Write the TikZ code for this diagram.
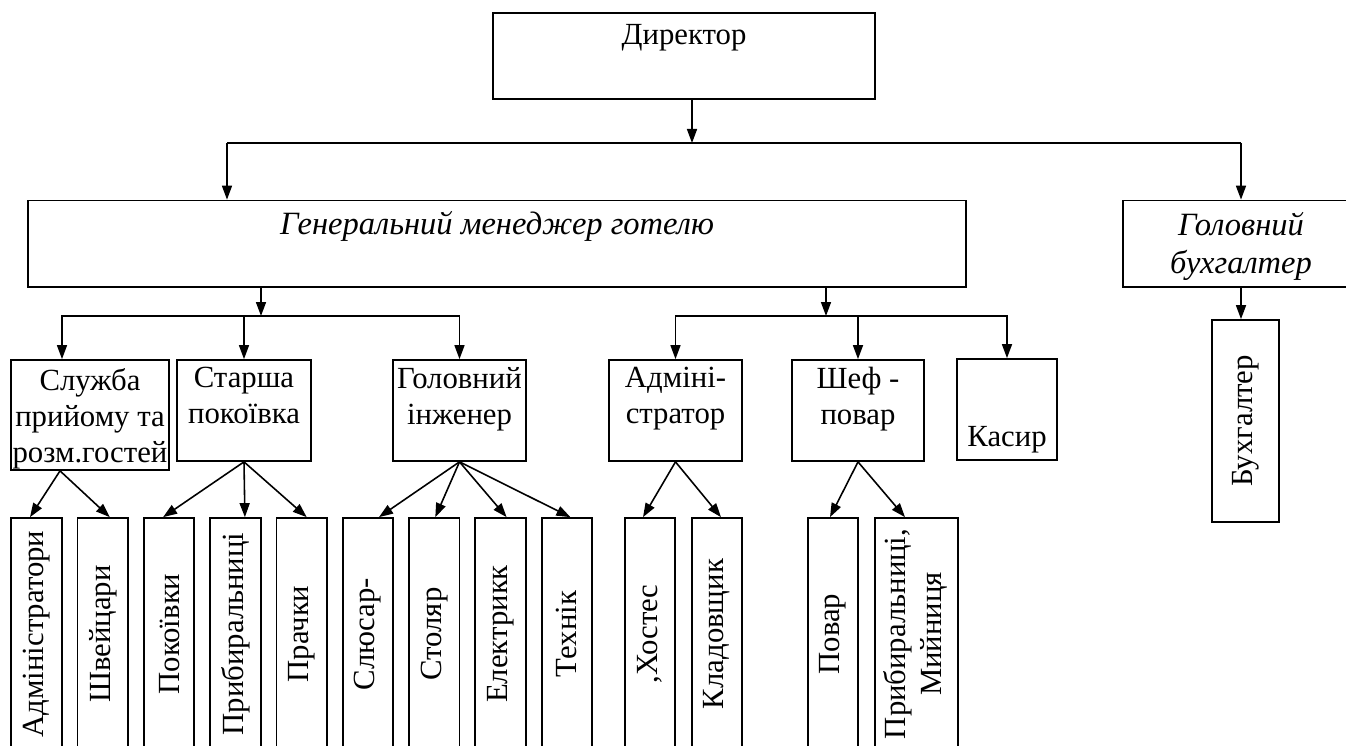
\documentclass[tikz,border=0pt]{standalone}
\usepackage{fontspec}
\setmainfont{Liberation Serif}
\usepackage{graphicx}
\usetikzlibrary{arrows.meta,positioning}

\newcommand\boxfont{\fontsize{17.5}{20.5}\selectfont}
\newcommand\itfont{\fontsize{18.5}{21.8}\selectfont\itshape}

\begin{document}
\begin{tikzpicture}[x=0.02cm,y=-0.02cm,
  every node/.style={font=\boxfont},
  box/.style={draw,line width=1pt,inner sep=0pt},
  txt/.style={inner sep=0pt,align=center},
  itxt/.style={txt,font=\itfont},
  vbox/.style={box,minimum width=10.1mm,minimum height=46.4mm},
  arr/.style={line width=0.9pt,-{Triangle[length=2.8mm,width=2mm]}}]
  \useasboundingbox (0,0) rectangle (1346,746);
  % верхній рівень
  \node[box,minimum width=76.4mm,minimum height=17.2mm] (dir) at (684,56) {};
  \node[txt,below=2.4mm of dir.north] (dirt) {Директор};
  \node[box,minimum width=187.6mm,minimum height=17.3mm] (gm) at (497,243.75) {};
  \node[itxt,below=2.2mm of gm.north] (gmt) {Генеральний менеджер готелю};
  \node[box,minimum width=47.2mm,minimum height=17.3mm] (gb) at (1241,243.75) {};
  \node[itxt,below=2.4mm of gb.north] (gbt) {Головний\\бухгалтер};
  \node[vbox,minimum width=13.4mm,minimum height=40.4mm] (bh) at (1245.5,421) {\rotatebox{90}{Бухгалтер}};
  % шина від директора
  \coordinate (b1) at (692,143);
  \coordinate (b1l) at (227,143);
  \coordinate (b1r) at (1241,143);
  \draw[arr] (dir.south -| b1) -- (b1);
  \draw[line width=0.9pt] (b1l) -- (b1r);
  \draw[arr] (b1l) -- (b1l |- gm.north);
  \draw[arr] (b1r) -- (gb.north);
  \draw[arr] (gb.south) -- (gb.south |- bh.north);
  % другий рівень
  \node[box,minimum width=31.6mm,minimum height=22mm] (sl) at (90,415) {};
  \node[txt,below=1.8mm of sl.north] (slt) {Служба\\прийому та\\розм.гостей};
  \node[box,minimum width=26.8mm,minimum height=20.2mm] (st) at (244,410.5) {};
  \node[txt,below=1.6mm of st.north] (stt) {Старша\\покоївка};
  \node[box,minimum width=26.6mm,minimum height=20.2mm] (gi) at (459.5,410.5) {};
  \node[txt,below=1.6mm of gi.north] (git) {Головний\\інженер};
  \node[box,minimum width=26.6mm,minimum height=20.2mm] (ad) at (675.5,410.5) {};
  \node[txt,below=1.6mm of ad.north] (adt) {Адміні-\\стратор};
  \node[box,minimum width=26.4mm,minimum height=20.2mm] (sh) at (858,410.5) {};
  \node[txt,below=1.6mm of sh.north] (sht) {Шеф -\\повар};
  \node[box,minimum width=20mm,minimum height=20.2mm] (ka) at (1007,409.5) {};
  \node[txt,above=1.4mm of ka.south] (kat) {Касир};
  % шини від генерального менеджера
  \coordinate (b2l) at (261,316);
  \coordinate (b2r) at (826,316);
  \draw[arr] (gm.south -| b2l) -- (b2l);
  \draw[arr] (gm.south -| b2r) -- (b2r);
  \draw[arr] (b2l) -| ([xshift=-5.6mm]sl.north);
  \draw[arr] (b2l) -| (st.north);
  \draw[arr] (b2l) -| (gi.north);
  \draw[arr] (b2r) -| (ad.north);
  \draw[arr] (b2r) -| (sh.north);
  \draw[arr] (b2r) -| (ka.north);
  % третій рівень
  \node[vbox] (v1) at (36.5,634) {\rotatebox{90}{Адміністратори}};
  \node[vbox] (v2) at (102.8,634) {\rotatebox{90}{Швейцари}};
  \node[vbox] (v3) at (169.1,634) {\rotatebox{90}{Покоївки}};
  \node[vbox] (v4) at (235.4,634) {\rotatebox{90}{Прибиральниці}};
  \node[vbox] (v5) at (301.7,634) {\rotatebox{90}{Прачки}};
  \node[vbox] (v6) at (368,634) {\rotatebox{90}{Слюсар-}};
  \node[vbox] (v7) at (434.3,634) {\rotatebox{90}{Столяр}};
  \node[vbox] (v8) at (500.6,634) {\rotatebox{90}{Електрикк}};
  \node[vbox] (v9) at (566.9,634) {\rotatebox{90}{Технік}};
  \node[vbox] (v10) at (650,634) {\rotatebox{90}{,Хостес}};
  \node[vbox] (v11) at (717,634) {\rotatebox{90}{Кладовщик}};
  \node[vbox] (v12) at (833,634) {\rotatebox{90}{Повар}};
  \node[vbox,minimum width=16.6mm] (v13) at (916.5,634)
    {\rotatebox{90}{\begin{tabular}{@{}c@{}}Прибиральниці,\\Мийниця\end{tabular}}};
  % стрілки до виконавців
  \draw[arr] ([xshift=-6mm]sl.south) -- ([xshift=-1.3mm]v1.north);
  \draw[arr] ([xshift=-6mm]sl.south) -- ([xshift=1.4mm]v2.north);
  \draw[arr] (st.south) -- ([xshift=-1.2mm]v3.north);
  \draw[arr] (st.south) -- ([xshift=1.9mm]v4.north);
  \draw[arr] (st.south) -- ([xshift=1mm]v5.north);
  \draw[arr] (gi.south) -- ([xshift=2.2mm]v6.north);
  \draw[arr] (gi.south) -- ([xshift=0.2mm]v7.north);
  \draw[arr] (gi.south) -- ([xshift=1.2mm]v8.north);
  \draw[arr] (gi.south) -- ([xshift=0.7mm]v9.north);
  \draw[arr] (ad.south) -- ([xshift=-1.4mm]v10.north);
  \draw[arr] (ad.south) -- ([xshift=0.8mm]v11.north);
  \draw[arr] (sh.south) -- ([xshift=-0.6mm]v12.north);
  \draw[arr] (sh.south) -- ([xshift=-2.3mm]v13.north);
\end{tikzpicture}
\end{document}
